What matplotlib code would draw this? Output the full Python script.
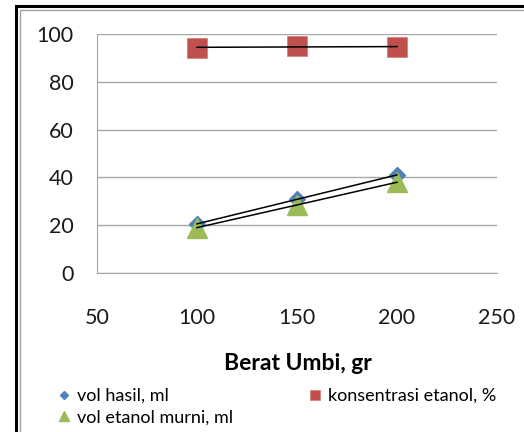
import matplotlib
matplotlib.use('Agg')
import matplotlib.pyplot as plt
from matplotlib.patches import Rectangle
import numpy as np

plt.rcParams['font.family'] = ['Lato', 'DejaVu Sans']

# berat umbi (gr) and the three measured series
berat_umbi = [100, 150, 200]
vol_hasil = [20.5, 31, 41]
konsentrasi_etanol = [94.3, 95.0, 94.6]
vol_etanol_murni = [19, 28.5, 38]

fig = plt.figure(figsize=(5.24, 4.32), dpi=100)
ax = fig.add_axes([0.185, 0.368, 0.7635, 0.553])

h1, = ax.plot(berat_umbi, vol_hasil, 'D', color='#4F81BD', ms=8.5, mec='#4F81BD',
              ls='none', label='vol hasil, ml', zorder=3)
h2, = ax.plot(berat_umbi, konsentrasi_etanol, 's', color='#C0504D', ms=14.4, mec='#D9807E',
              mew=0.6, ls='none', label='konsentrasi etanol, %', zorder=3)
h3, = ax.plot(berat_umbi, vol_etanol_murni, '^', color='#9BBB59', ms=15, mec='#9BBB59',
              ls='none', label='vol etanol murni, ml', zorder=4)

# linear trendlines, black
xs = np.array([min(berat_umbi), max(berat_umbi)])
for ys in (vol_hasil, konsentrasi_etanol, vol_etanol_murni):
    k, b = np.polyfit(berat_umbi, ys, 1)
    ax.plot(xs, k * xs + b, color='black', lw=1.1, zorder=5)

ax.set_xlim(50, 250)
ax.set_ylim(0, 100)
ax.set_xticks([50, 100, 150, 200, 250])
ax.set_yticks([0, 20, 40, 60, 80, 100])
ax.grid(axis='y', color='#A6A6A6', lw=1.0)
ax.set_axisbelow(True)
for s in ['top', 'right']:
    ax.spines[s].set_visible(False)
ax.spines['left'].set_color('#A6A6A6')
ax.spines['bottom'].set_color('#A6A6A6')
ax.tick_params(length=0, labelsize=15.5, colors='#1a1a1a')
ax.tick_params(axis='y', pad=17)
ax.tick_params(axis='x', pad=25)

fig.text(0.569, 1 - 364 / 432, 'Berat Umbi, gr', ha='center', va='center',
         fontsize=16.5, fontweight='bold')

fig.legend(handles=[h1, h3, h2], loc='upper left', bbox_to_anchor=(0.097, 1 - 379 / 432),
           ncol=2, frameon=False, fontsize=13, handlelength=0.5, handletextpad=0.45,
           columnspacing=4.3, labelspacing=0.3, borderpad=0, markerscale=0.48)

# chart frame
fig.patches.append(Rectangle((15.5 / 524, -0.1), 1.2, 1.1 - 6.5 / 432, transform=fig.transFigure,
                             fill=False, ec='black', lw=2.2))
fig.patches.append(Rectangle((19.5 / 524, -0.1), 1.2, 1.1 - 10 / 432, transform=fig.transFigure,
                             fill=False, ec='#A0A0A0', lw=1.0))

fig.savefig('out.png', dpi=100)
